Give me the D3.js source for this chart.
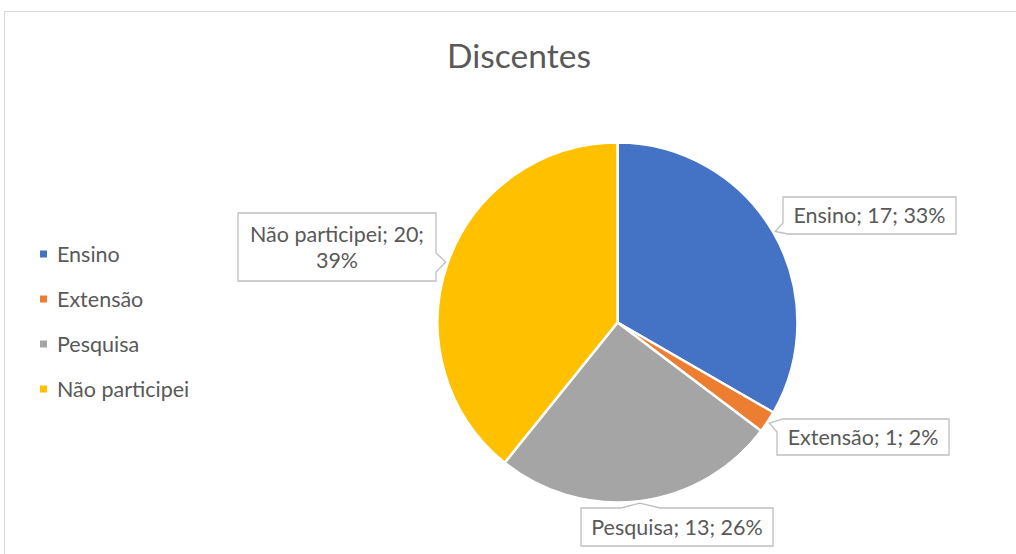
<!DOCTYPE html>
<html>
<head>
<meta charset="utf-8">
<script src="https://cdn.jsdelivr.net/npm/d3@7"></script>
<style>
body { margin: 0; background: #fff; }
text { font-family: Lato, "Open Sans", sans-serif; fill: #595959; }
</style>
</head>
<body>
<svg id="chart" width="1016" height="554"></svg>
<script>
// data
const categories = ['Ensino', 'Extensão', 'Pesquisa', 'Não participei'];
const values = [17, 1, 13, 20];
const percents = ['33%', '2%', '26%', '39%'];
const colors = ['#4472c4', '#ed7d31', '#a5a5a5', '#ffc000'];

const W = 1016, H = 554;
const cx = 617.5, cy = 322.5, R = 180;

const svg = d3.select('#chart');

// chart frame
svg.append('rect')
    .attr('x', 4.5).attr('y', 11.5)
    .attr('width', W + 20).attr('height', H + 20)
    .attr('fill', '#fff')
    .attr('stroke', '#d9d9d9').attr('stroke-width', 1);

// fit a text to a given pixel width
function fitText(sel, width) {
    const w = sel.node().getComputedTextLength();
    const fs = parseFloat(sel.attr('font-size'));
    sel.attr('font-size', fs * width / w);
}

const title = svg.append('text')
    .attr('x', 519).attr('y', 68)
    .attr('text-anchor', 'middle')
    .attr('font-size', 30)
    .text('Discentes');
fitText(title, 144);

// pie
const pie = d3.pie().sort(null).value(d => d)(values);
const arc = d3.arc().innerRadius(0).outerRadius(R);

const g = svg.append('g').attr('transform', `translate(${cx},${cy})`);
g.selectAll('path.slice').data(pie).enter().append('path')
    .attr('class', 'slice')
    .attr('d', arc)
    .attr('fill', (d, i) => colors[i])
    .attr('stroke', '#fff').attr('stroke-width', 2.5)
    .attr('stroke-linejoin', 'round');

// legend
const legendY = d3.scalePoint().domain(categories).range([254, 389]);
const leg = svg.append('g').selectAll('g').data(categories).enter().append('g')
    .attr('transform', d => `translate(40,${legendY(d)})`);
leg.append('rect')
    .attr('x', 0).attr('y', -3.5).attr('width', 7).attr('height', 7)
    .attr('fill', (d, i) => colors[i]);
leg.append('text')
    .attr('x', 17).attr('y', 0).attr('dy', '0.35em')
    .attr('font-size', 21.5)
    .text(d => d);

// callouts (box layout only; pointer tip from slice mid-angle)
const boxes = [
    { x0: 783, y0: 197, x1: 956, y1: 234, kind: 'bl' },
    { x0: 777, y0: 419, x1: 949, y1: 455, kind: 'tl' },
    { x0: 581, y0: 508, x1: 773, y1: 546, kind: 'top' },
    { x0: 238, y0: 213, x1: 436, y1: 281, kind: 'right' }
];

function tipOf(d) {
    const a = (d.startAngle + d.endAngle) / 2;
    return [cx + (R + 2) * Math.sin(a), cy - (R + 2) * Math.cos(a)];
}

function calloutPath(b, t) {
    const [tx, ty] = t;
    const p = d3.path();
    if (b.kind === 'bl') {
        p.moveTo(b.x0, b.y0); p.lineTo(b.x1, b.y0); p.lineTo(b.x1, b.y1);
        p.lineTo(b.x0 + 5, b.y1); p.lineTo(tx, ty); p.lineTo(b.x0, b.y1 - 11);
    } else if (b.kind === 'tl') {
        p.moveTo(b.x0 + 6, b.y0); p.lineTo(b.x1, b.y0); p.lineTo(b.x1, b.y1);
        p.lineTo(b.x0, b.y1); p.lineTo(b.x0, b.y0 + 13); p.lineTo(tx, ty);
    } else if (b.kind === 'top') {
        p.moveTo(b.x0, b.y0); p.lineTo(tx - 19, b.y0); p.lineTo(tx, ty);
        p.lineTo(tx + 20, b.y0); p.lineTo(b.x1, b.y0); p.lineTo(b.x1, b.y1);
        p.lineTo(b.x0, b.y1);
    } else {
        p.moveTo(b.x0, b.y0); p.lineTo(b.x1, b.y0); p.lineTo(b.x1, ty - 9);
        p.lineTo(tx, ty); p.lineTo(b.x1, ty + 10); p.lineTo(b.x1, b.y1);
        p.lineTo(b.x0, b.y1);
    }
    p.closePath();
    return p.toString();
}

const labels = svg.append('g').selectAll('g').data(pie).enter().append('g');
labels.append('path')
    .attr('d', (d, i) => calloutPath(boxes[i], tipOf(d)))
    .attr('fill', '#fff')
    .attr('stroke', '#bfbfbf').attr('stroke-width', 1.3);

const fs = 21.5;
labels.each(function (d, i) {
    const b = boxes[i];
    const mx = (b.x0 + b.x1) / 2, my = (b.y0 + b.y1) / 2;
    const sel = d3.select(this);
    const full = `${categories[i]}; ${values[i]}; ${percents[i]}`;
    if (i === 3) {
        sel.append('text').attr('x', mx).attr('y', my - 13).attr('dy', '0.35em')
            .attr('text-anchor', 'middle').attr('font-size', fs)
            .text(`${categories[i]}; ${values[i]};`);
        sel.append('text').attr('x', mx).attr('y', my + 13).attr('dy', '0.35em')
            .attr('text-anchor', 'middle').attr('font-size', fs)
            .text(percents[i]);
    } else {
        sel.append('text').attr('x', mx).attr('y', my).attr('dy', '0.35em')
            .attr('text-anchor', 'middle').attr('font-size', fs)
            .text(full);
    }
});
</script>
</body>
</html>
